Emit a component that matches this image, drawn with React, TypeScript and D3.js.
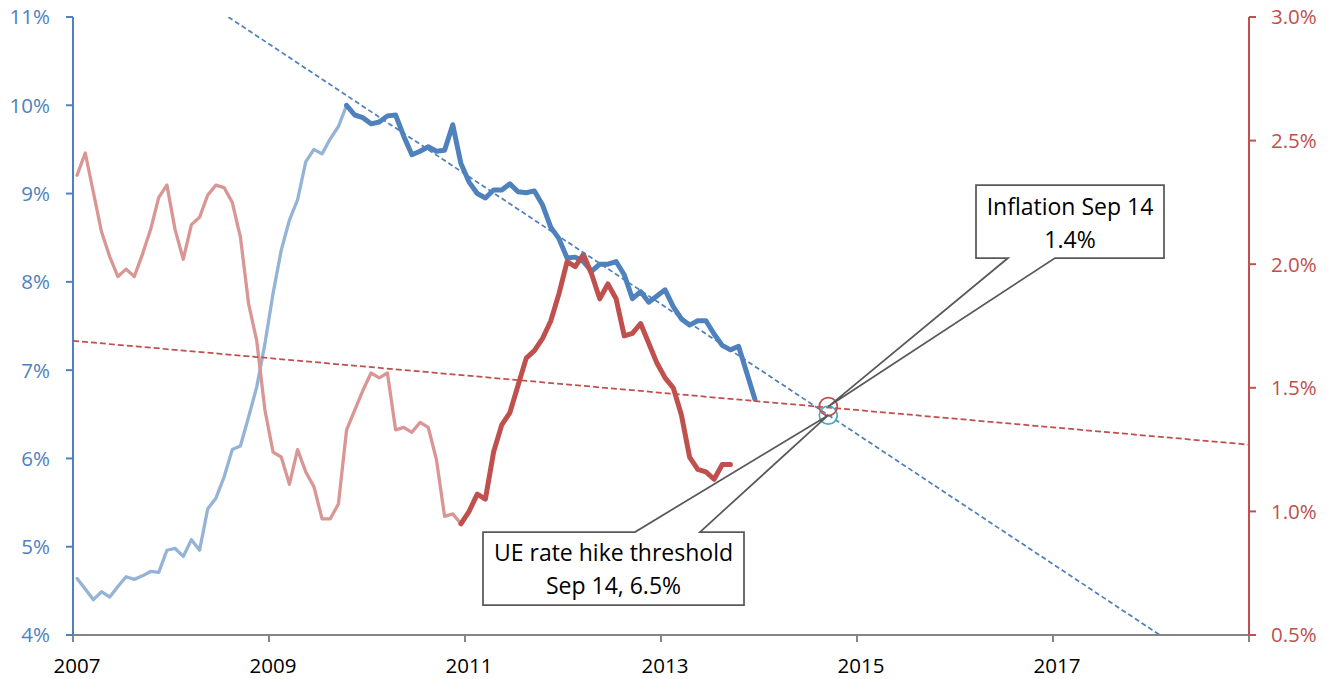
import { useEffect, useRef } from "react";
import * as d3 from "d3";

// monthly series, first value = Jan 2007
const startYear = 2007;

// unemployment rate (%), Jan 2007 - Dec 2013
const ueRate = [
  4.64, 4.52, 4.4, 4.49, 4.43, 4.55, 4.66, 4.63, 4.67, 4.72, 4.71, 4.96,
  4.98, 4.89, 5.08, 4.96, 5.43, 5.55, 5.79, 6.1, 6.14, 6.47, 6.81, 7.3,
  7.87, 8.36, 8.7, 8.93, 9.36, 9.5, 9.45, 9.62, 9.76, 10.0, 9.89, 9.86,
  9.79, 9.81, 9.88, 9.89, 9.65, 9.44, 9.48, 9.53, 9.48, 9.49, 9.78, 9.34,
  9.13, 9.0, 8.95, 9.04, 9.04, 9.11, 9.02, 9.01, 9.03, 8.87, 8.62, 8.49,
  8.27, 8.28, 8.23, 8.12, 8.2, 8.2, 8.23, 8.08, 7.81, 7.89, 7.77, 7.84,
  7.91, 7.72, 7.58, 7.51, 7.56, 7.56, 7.41, 7.28, 7.23, 7.27, 6.97, 6.67,
];
const ueSplit = 33; // Oct 2009 peak: faded before, bold after

// inflation (%), Jan 2007 - Sep 2013
const inflation = [
  2.36, 2.45, 2.29, 2.13, 2.03, 1.95, 1.98, 1.95, 2.04, 2.14, 2.27, 2.32,
  2.14, 2.02, 2.16, 2.19, 2.28, 2.32, 2.31, 2.25, 2.11, 1.84, 1.69, 1.41,
  1.24, 1.22, 1.11, 1.25, 1.16, 1.1, 0.97, 0.97, 1.03, 1.33, 1.41, 1.49,
  1.56, 1.54, 1.56, 1.33, 1.34, 1.32, 1.36, 1.34, 1.21, 0.98, 0.99, 0.95,
  1.0, 1.07, 1.05, 1.24, 1.35, 1.4, 1.51, 1.62, 1.65, 1.7, 1.77, 1.88,
  2.01, 1.99, 2.04, 1.96, 1.86, 1.92, 1.86, 1.71, 1.72, 1.76, 1.68, 1.6,
  1.54, 1.5, 1.39, 1.22, 1.17, 1.16, 1.13, 1.19, 1.19,
];
const inflSplit = 47; // Dec 2010

// linear trends [year, value]
const ueTrend = [
  [2008.585, 11],
  [2018.09, 4],
];
const inflTrend = [
  [2007, 1.69],
  [2019, 1.27],
];

// Sep 2014 crossing
const target = { date: 2014.707, ue: 6.49, infl: 1.424 };

const xTicks = [2007, 2009, 2011, 2013, 2015, 2017, 2019];
const xLabels = ["2007", "2009", "2011", "2013", "2015", "2017", ""];
const leftTicks = [4, 5, 6, 7, 8, 9, 10, 11];
const rightTicks = [0.5, 1.0, 1.5, 2.0, 2.5, 3.0];

const inflLabel = ["Inflation Sep 14", "1.4%"];
const ueLabel = ["UE rate hike threshold", "Sep 14, 6.5%"];

const BLUE = "#4F81BD";
const BLUE_LIGHT = "#95B3D7";
const RED = "#C0504D";
const RED_LIGHT = "#D99694";
const TEAL = "#4BACC6";
const GREY = "#595959";
const FONT = "'Open Sans', sans-serif";
const TICK_SIZE = "20.5px";
const NOTE_SIZE = "23px";

export default function App() {
  const ref = useRef<SVGSVGElement>(null);

  useEffect(() => {
    if (!ref.current) return;
    const W = 1337;
    const H = 679;
    const left = 73;
    const right = 1249;
    const top = 17;
    const bottom = 635;

    const svg = d3.select(ref.current);
    svg.selectAll("*").remove();
    svg.attr("width", W).attr("height", H);

    const x = d3.scaleLinear().domain([2007, 2019]).range([left, right]);
    const yL = d3.scaleLinear().domain([4, 11]).range([bottom, top]);
    const yR = d3.scaleLinear().domain([0.5, 3.0]).range([bottom, top]);

    const monthDate = (i: number) => startYear + (i + 0.5) / 12;

    svg
      .append("defs")
      .append("clipPath")
      .attr("id", "plot")
      .append("rect")
      .attr("x", left)
      .attr("y", top)
      .attr("width", right - left)
      .attr("height", bottom - top);

    // axes
    svg
      .append("line")
      .attr("x1", left)
      .attr("x2", right)
      .attr("y1", bottom)
      .attr("y2", bottom)
      .attr("stroke", "#868686")
      .attr("stroke-width", 2);

    svg
      .selectAll(".xtick")
      .data(xTicks)
      .enter()
      .append("line")
      .attr("x1", (d) => x(d))
      .attr("x2", (d) => x(d))
      .attr("y1", bottom)
      .attr("y2", bottom + 7)
      .attr("stroke", "#868686")
      .attr("stroke-width", 2);

    svg
      .selectAll(".xlabel")
      .data(xTicks)
      .enter()
      .append("text")
      .attr("x", (d) => x(d) + 4)
      .attr("y", 673)
      .attr("text-anchor", "middle")
      .style("font-family", FONT)
      .style("font-size", TICK_SIZE)
      .style("fill", "#000")
      .text((d, i) => xLabels[i]);

    // left axis
    svg
      .append("line")
      .attr("x1", left)
      .attr("x2", left)
      .attr("y1", top)
      .attr("y2", bottom)
      .attr("stroke", BLUE)
      .attr("stroke-width", 2);
    leftTicks.forEach((t) => {
      svg
        .append("line")
        .attr("x1", left - 7)
        .attr("x2", left)
        .attr("y1", yL(t))
        .attr("y2", yL(t))
        .attr("stroke", BLUE)
        .attr("stroke-width", 2);
      svg
        .append("text")
        .attr("x", 50)
        .attr("y", yL(t))
        .attr("dy", "0.36em")
        .attr("text-anchor", "end")
        .style("font-family", FONT)
        .style("font-size", TICK_SIZE)
        .style("fill", BLUE)
        .text(`${t}%`);
    });

    // right axis
    svg
      .append("line")
      .attr("x1", right)
      .attr("x2", right)
      .attr("y1", top)
      .attr("y2", bottom)
      .attr("stroke", RED)
      .attr("stroke-width", 2);
    rightTicks.forEach((t) => {
      svg
        .append("line")
        .attr("x1", right)
        .attr("x2", right + 7)
        .attr("y1", yR(t))
        .attr("y2", yR(t))
        .attr("stroke", RED)
        .attr("stroke-width", 2);
      svg
        .append("text")
        .attr("x", right + 22)
        .attr("y", yR(t))
        .attr("dy", "0.36em")
        .attr("text-anchor", "start")
        .style("font-family", FONT)
        .style("font-size", TICK_SIZE)
        .style("fill", RED)
        .text(`${t.toFixed(1)}%`);
    });

    // series
    const drawSeries = (
      values: number[],
      from: number,
      to: number,
      y: d3.ScaleLinear<number, number>,
      color: string,
      width: number
    ) => {
      const pts = values
        .map((v, i) => [monthDate(i), v] as [number, number])
        .slice(from, to + 1);
      const line = d3
        .line<[number, number]>()
        .x((d) => x(d[0]))
        .y((d) => y(d[1]));
      svg
        .append("path")
        .attr("d", line(pts))
        .attr("fill", "none")
        .attr("stroke", color)
        .attr("stroke-width", width)
        .attr("stroke-linejoin", "round")
        .attr("stroke-linecap", "round");
    };

    drawSeries(ueRate, 0, ueSplit, yL, BLUE_LIGHT, 3.3);
    drawSeries(inflation, 0, inflSplit, yR, RED_LIGHT, 3.3);
    drawSeries(ueRate, ueSplit, ueRate.length - 1, yL, BLUE, 5);
    drawSeries(inflation, inflSplit, inflation.length - 1, yR, RED, 5);

    // trend lines
    const trend = svg.append("g").attr("clip-path", "url(#plot)");
    trend
      .append("line")
      .attr("x1", x(inflTrend[0][0]))
      .attr("y1", yR(inflTrend[0][1]))
      .attr("x2", x(inflTrend[1][0]))
      .attr("y2", yR(inflTrend[1][1]))
      .attr("stroke", RED)
      .attr("stroke-width", 1.75)
      .attr("stroke-dasharray", "6,3");
    trend
      .append("line")
      .attr("x1", x(ueTrend[0][0]))
      .attr("y1", yL(ueTrend[0][1]))
      .attr("x2", x(ueTrend[1][0]))
      .attr("y2", yL(ueTrend[1][1]))
      .attr("stroke", BLUE)
      .attr("stroke-width", 1.75)
      .attr("stroke-dasharray", "5,3");

    // target circles
    const tx = x(target.date);
    svg
      .append("circle")
      .attr("cx", tx)
      .attr("cy", yL(target.ue))
      .attr("r", 9)
      .attr("fill", "none")
      .attr("stroke", TEAL)
      .attr("stroke-width", 1.75);
    svg
      .append("circle")
      .attr("cx", tx)
      .attr("cy", yR(target.infl))
      .attr("r", 9)
      .attr("fill", "none")
      .attr("stroke", RED)
      .attr("stroke-width", 1.75);

    // callouts
    const callout = (
      lines: string[],
      box: { x0: number; y0: number; x1: number; y1: number },
      g0: number,
      g1: number,
      tip: [number, number],
      edge: "top" | "bottom",
      baselines: number[]
    ) => {
      const { x0, y0, x1, y1 } = box;
      const p = d3.path();
      if (edge === "bottom") {
        p.moveTo(x0, y0);
        p.lineTo(x1, y0);
        p.lineTo(x1, y1);
        p.lineTo(g1, y1);
        p.lineTo(tip[0], tip[1]);
        p.lineTo(g0, y1);
        p.lineTo(x0, y1);
      } else {
        p.moveTo(x0, y0);
        p.lineTo(g0, y0);
        p.lineTo(tip[0], tip[1]);
        p.lineTo(g1, y0);
        p.lineTo(x1, y0);
        p.lineTo(x1, y1);
        p.lineTo(x0, y1);
      }
      p.closePath();
      svg
        .append("path")
        .attr("d", p.toString())
        .attr("fill", "#fff")
        .attr("stroke", GREY)
        .attr("stroke-width", 1.75)
        .attr("stroke-linejoin", "miter");
      lines.forEach((t, i) => {
        svg
          .append("text")
          .attr("x", (x0 + x1) / 2)
          .attr("y", baselines[i])
          .attr("text-anchor", "middle")
          .style("font-family", FONT)
          .style("font-size", NOTE_SIZE)
          .style("fill", "#000")
          .text(t);
      });
    };

    callout(
      ueLabel,
      { x0: 483, y0: 532, x1: 744, y1: 605 },
      635,
      700,
      [tx, yL(target.ue)],
      "top",
      [561, 594]
    );
    callout(
      inflLabel,
      { x0: 976, y0: 185, x1: 1164, y1: 258 },
      1008,
      1055,
      [tx, yR(target.infl)],
      "bottom",
      [215, 248]
    );
  }, []);

  return (
    <svg
      ref={ref}
      style={{ position: "absolute", left: 0, top: 0, background: "#fff" }}
    />
  );
}
